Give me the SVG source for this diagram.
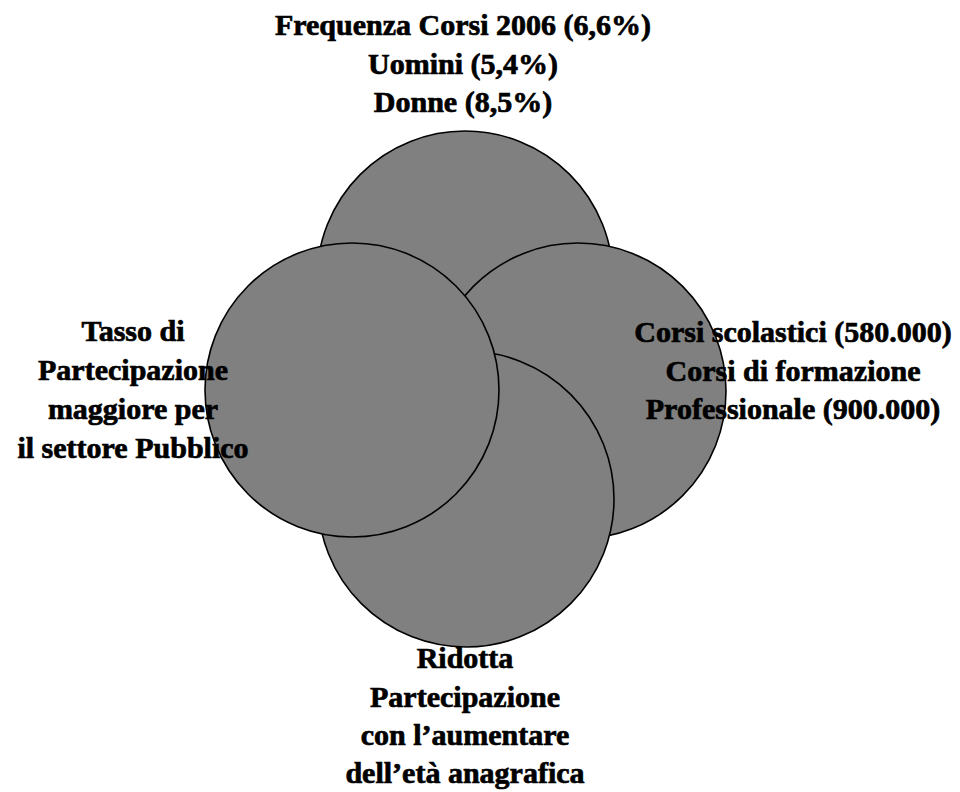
<svg xmlns="http://www.w3.org/2000/svg" width="960" height="792" viewBox="0 0 960 792">
<style>
.c{fill:#808080;stroke:#000;stroke-width:1.6}
.t{font-family:"Liberation Serif","Times New Roman",serif;font-weight:bold;font-size:30px;fill:#000;stroke:#000;stroke-width:0.7;text-anchor:middle}
</style>
<rect width="960" height="792" fill="#fff"/>
<g id="top">
<circle class="c" cx="465" cy="279" r="148"/>
<text class="t" x="463" y="35">Frequenza Corsi 2006 (6,6%)</text>
<text class="t" x="463" y="73.5">Uomini (5,4%)</text>
<text class="t" x="463" y="112">Donne (8,5%)</text>
</g>
<g id="right">
<circle class="c" cx="578" cy="391" r="148"/>
<text class="t" x="793" y="342">Corsi scolastici (580.000)</text>
<text class="t" x="793" y="380.5">Corsi di formazione</text>
<text class="t" x="793" y="419">Professionale (900.000)</text>
</g>
<g id="bottom">
<circle class="c" cx="466" cy="499" r="148"/>
<text class="t" x="465" y="668">Ridotta</text>
<text class="t" x="465" y="706.5">Partecipazione</text>
<text class="t" x="465" y="745">con l’aumentare</text>
<text class="t" x="465" y="783">dell’età anagrafica</text>
</g>
<g id="left">
<circle class="c" cx="352" cy="390" r="147"/>
<text class="t" x="133" y="341">Tasso di</text>
<text class="t" x="133" y="380">Partecipazione</text>
<text class="t" x="133" y="419">maggiore per</text>
<text class="t" x="133" y="458">il settore Pubblico</text>
</g>
</svg>
